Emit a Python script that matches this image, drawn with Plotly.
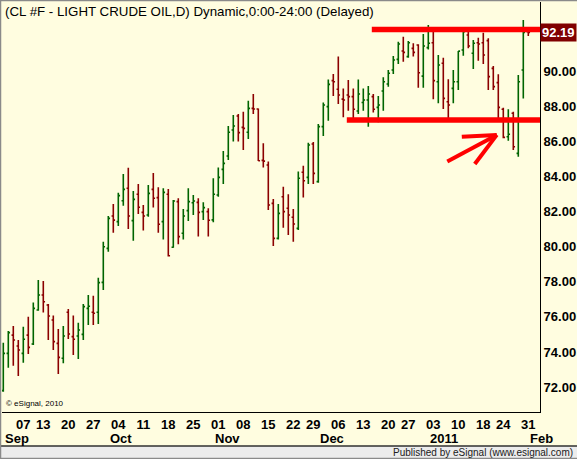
import numpy as np
import pandas as pd
import plotly.graph_objects as go

# eSignal light theme
BG = "#FFFDE0"
UP = "#006400"
DOWN = "#8B0000"
DRAW_RED = "#FF0000"
FONT = "Liberation Sans, Arial, sans-serif"

# trading days Aug 31 2010 .. Jan 31 2011
HOLIDAYS = ["2010-09-06", "2010-11-25", "2010-12-24", "2011-01-17"]
DATES = [d for d in pd.bdate_range("2010-08-31", "2011-01-31") if d.strftime("%Y-%m-%d") not in HOLIDAYS]

OPEN = [71.80, 73.92, 74.96, 74.34, 73.92, 74.96, 74.45, 76.39, 77.24, 76.67,
        75.82, 74.49, 73.64, 76.26, 74.87, 74.91, 75.00, 76.48, 76.26, 76.26,
        77.96, 79.90, 81.74, 81.42, 82.61, 83.32, 81.48, 82.98, 81.95, 81.80,
        83.26, 82.79, 81.42, 82.98, 79.96, 82.56, 80.76, 82.05, 82.50, 82.52,
        81.99, 81.99, 81.52, 82.94, 84.40, 85.16, 86.64, 87.44, 86.79, 86.51,
        87.87, 87.84, 84.91, 84.65, 82.46, 80.47, 82.84, 82.18, 81.67, 81.04,
        84.23, 83.94, 85.84, 83.70, 86.83, 87.97, 89.45, 88.96, 88.40, 88.63,
        88.54, 87.72, 88.21, 88.35, 88.54, 87.93, 88.86, 89.26, 90.06, 90.66,
        91.14, 90.82, 91.29, 91.48, 89.71, 91.33, 91.61, 89.39, 90.44, 88.25,
        89.01, 89.39, 91.20, 92.05, 91.01, 91.61, 91.61, 91.73, 90.15, 89.34,
        87.82, 86.26, 87.59, 85.31, 90.06, 92.24]
HIGH = [74.53, 75.19, 75.48, 74.68, 75.44, 76.01, 76.81, 78.10, 78.04, 76.73,
        76.07, 75.31, 75.48, 76.45, 76.07, 75.67, 76.73, 77.24, 77.20, 78.23,
        80.28, 81.74, 82.42, 83.07, 84.13, 84.49, 83.17, 83.57, 82.37, 83.51,
        84.19, 83.38, 83.32, 83.28, 82.65, 82.75, 82.14, 83.32, 82.94, 82.75,
        82.52, 82.18, 83.89, 84.51, 85.45, 86.87, 87.49, 87.55, 87.68, 88.31,
        88.69, 87.87, 85.88, 84.84, 82.71, 82.43, 83.41, 82.98, 82.14, 84.27,
        84.61, 85.92, 85.96, 86.98, 88.20, 89.52, 89.83, 90.82, 89.01, 89.49,
        89.01, 89.52, 89.01, 89.15, 88.69, 88.58, 89.64, 90.06, 90.85, 91.67,
        91.95, 91.71, 91.58, 91.52, 92.11, 92.62, 92.24, 90.91, 90.76, 89.53,
        90.06, 91.14, 92.49, 92.43, 91.76, 91.90, 92.18, 91.86, 90.28, 89.81,
        87.91, 87.82, 87.68, 89.77, 92.90, 92.30]
LOW = [71.74, 73.10, 73.22, 72.63, 73.39, 73.88, 74.40, 76.35, 76.24, 74.68,
       74.11, 72.74, 73.35, 74.74, 73.83, 73.60, 74.68, 75.53, 75.53, 75.59,
       77.53, 79.71, 80.79, 81.17, 82.33, 81.00, 80.34, 81.86, 80.91, 81.70,
       82.22, 80.79, 80.41, 79.43, 79.94, 80.13, 80.41, 81.46, 81.80, 80.57,
       81.52, 80.57, 81.38, 82.84, 83.57, 84.93, 85.98, 85.98, 85.50, 86.13,
       87.55, 84.87, 84.50, 82.08, 80.03, 80.40, 81.08, 80.66, 80.28, 80.95,
       82.79, 83.56, 83.56, 83.64, 86.30, 87.17, 88.58, 88.12, 87.36, 87.74,
       87.11, 87.55, 87.74, 86.83, 87.63, 87.08, 87.74, 89.11, 89.83, 90.40,
       90.53, 90.76, 90.82, 89.05, 89.05, 91.23, 88.39, 88.16, 87.84, 87.30,
       88.16, 88.92, 90.87, 91.29, 90.11, 90.59, 90.40, 88.92, 88.92, 87.30,
       86.17, 86.03, 85.50, 85.12, 88.44, 91.99]
CLOSE = [73.92, 75.10, 74.68, 74.11, 74.72, 74.26, 76.48, 77.24, 76.86, 76.05,
         74.59, 73.69, 74.91, 75.02, 74.72, 75.25, 76.58, 76.60, 76.20, 77.95,
         79.99, 81.61, 81.51, 82.90, 83.26, 81.74, 82.69, 82.24, 81.74, 83.03,
         82.75, 81.27, 83.09, 79.48, 82.60, 80.57, 81.74, 82.56, 82.60, 81.95,
         82.22, 81.50, 82.98, 83.94, 84.74, 86.51, 86.87, 86.49, 86.73, 87.87,
         87.84, 84.89, 84.87, 82.37, 80.47, 81.89, 81.99, 81.80, 81.29, 83.89,
         83.75, 85.79, 84.17, 86.83, 88.06, 89.24, 89.39, 88.63, 88.35, 88.54,
         87.82, 88.69, 88.35, 88.69, 87.82, 88.06, 89.39, 89.87, 90.63, 91.54,
         91.06, 91.61, 91.06, 89.90, 91.42, 91.58, 89.45, 90.34, 88.44, 88.06,
         89.39, 91.13, 92.24, 91.42, 91.58, 91.54, 90.91, 89.68, 89.11, 87.93,
         86.22, 86.40, 85.69, 89.39, 92.20, 92.19]

TICK_DATES = ["2010-09-07", "2010-09-13", "2010-09-20", "2010-09-27", "2010-10-04",
              "2010-10-11", "2010-10-18", "2010-10-25", "2010-11-01", "2010-11-08",
              "2010-11-15", "2010-11-22", "2010-11-29", "2010-12-06", "2010-12-13",
              "2010-12-20", "2010-12-27", "2011-01-03", "2011-01-10", "2011-01-18",
              "2011-01-24", "2011-01-31"]
MONTH_TEXT = ["Sep", "Oct", "Nov", "Dec", "2011", "Feb"]
MONTH_START = ["2010-09-01", "2010-10-01", "2010-11-01", "2010-12-01", "2011-01-01", "2011-02-01"]
PRICE_TICKS = [72, 74, 76, 78, 80, 82, 84, 86, 88, 90]

# hand-drawn markup (x in bar slots, y in price)
RESIST = (73.7, 92.36)
SUPPORT = (68.7, 87.21)
ARROW_TIP = (98.7, 86.36)
ARROW_TAILS = [(88.8, 84.84), (91.7, 86.26), (94.3, 84.70)]

idx = pd.DatetimeIndex(DATES)
x = np.arange(len(DATES))
tick_pos = [int(idx.searchsorted(pd.Timestamp(d))) for d in TICK_DATES]
tick_txt = [d[-2:] for d in TICK_DATES]
month_pos = [int(idx.searchsorted(pd.Timestamp(d))) - 1 for d in MONTH_START]

X_RANGE = [-0.26, 107.34]
Y_RANGE = [70.58, 93.93]

fig = go.Figure()
fig.add_trace(go.Ohlc(
    x=x, open=OPEN, high=HIGH, low=LOW, close=CLOSE,
    increasing_line_color=UP, decreasing_line_color=DOWN,
    line_width=1.6, tickwidth=0.35, showlegend=False, hoverinfo="skip",
))

fig.update_layout(
    width=577, height=459,
    margin=dict(l=2, r=37, t=2, b=47),
    plot_bgcolor=BG, paper_bgcolor=BG,
    font=dict(family=FONT, color="black"),
    showlegend=False,
)
fig.update_xaxes(
    range=X_RANGE, rangeslider_visible=False, showgrid=False, zeroline=False,
    showline=True, linecolor="black", linewidth=1,
    tickvals=tick_pos, ticktext=tick_txt, ticks="",
    tickfont=dict(size=13, family=FONT, weight="bold"),
)
fig.update_yaxes(
    range=Y_RANGE, side="right", showgrid=False, zeroline=False,
    showline=True, linecolor="black", linewidth=1,
    tickvals=PRICE_TICKS, tickformat=".2f", ticks="",
    tickfont=dict(size=13, family=FONT, weight="bold"),
)

# support / resistance lines and arrow
for x0, lvl in (RESIST, SUPPORT):
    fig.add_shape(type="line", x0=x0, x1=X_RANGE[1], y0=lvl, y1=lvl,
                  line=dict(color=DRAW_RED, width=5.5), layer="above")
for tx, ty in ARROW_TAILS:
    fig.add_shape(type="line", x0=tx, y0=ty, x1=ARROW_TIP[0], y1=ARROW_TIP[1],
                  line=dict(color=DRAW_RED, width=4), layer="above")

# last price tag
fig.add_annotation(x=1, xref="paper", y=CLOSE[-1], yref="y", xanchor="left",
                   text=f"{CLOSE[-1]:.2f}", showarrow=False, bgcolor="#800000",
                   borderpad=1, font=dict(size=13, color="white", family=FONT, weight="bold"))

for pos, txt in zip(month_pos, MONTH_TEXT):
    fig.add_annotation(x=pos, xref="x", y=-0.0635, yref="paper", xanchor="left",
                       yanchor="middle", text=txt, showarrow=False,
                       font=dict(size=13, family=FONT, weight="bold"))

fig.add_annotation(x=0, xref="paper", xshift=1, y=1, yref="paper", yanchor="top",
                   xanchor="left", text="(CL #F - LIGHT CRUDE OIL,D) Dynamic,0:00-24:00 (Delayed)",
                   showarrow=False, font=dict(size=13.3, family=FONT))
fig.add_annotation(x=0, xref="paper", xshift=2, y=0, yref="paper", yshift=2,
                   yanchor="bottom", xanchor="left", text="© eSignal, 2010",
                   showarrow=False, font=dict(size=8, family=FONT))

# footer strip and frame
fig.add_shape(type="rect", xref="paper", yref="paper", x0=-0.01, x1=1.08,
              y0=-0.1146, y1=-0.0829, fillcolor="#ECECEC", line=dict(width=0), layer="above")
fig.add_shape(type="line", xref="paper", yref="paper", x0=-0.01, x1=1.08,
              y0=-0.0829, y1=-0.0829, line=dict(color="#303030", width=1.5), layer="above")
fig.add_annotation(x=1, xref="paper", xshift=35, y=-0.0995, yref="paper", xanchor="right",
                   yanchor="middle", text="Published by eSignal (www.esignal.com)",
                   showarrow=False, font=dict(size=10, family=FONT, color="#202020"))
fig.add_shape(type="rect", xref="paper", yref="paper", x0=-0.0028, x1=1.0706,
              y0=-0.1134, y1=1.0037, line=dict(color="#8A8A8A", width=1.5), layer="above")

fig.write_html("out.html", config={"displayModeBar": False},
               post_script="document.body.style.margin='0';")
